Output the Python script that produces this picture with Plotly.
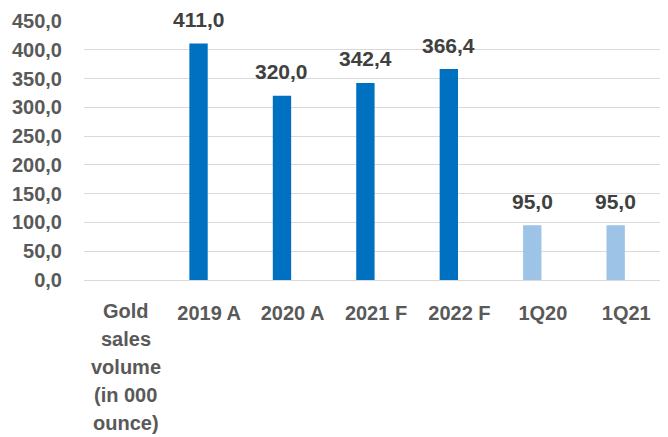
import plotly.graph_objects as go

categories = ["Gold<br>sales<br>volume<br>(in 000<br>ounce)", "2019 A", "2020 A", "2021 F", "2022 F", "1Q20", "1Q21"]
annual_values = [None, 411.0, 320.0, 342.4, 366.4, None, None]
quarter_values = [None, None, None, None, None, 95.0, 95.0]
y_ticks = [0, 50, 100, 150, 200, 250, 300, 350, 400, 450]

DARK = "#0070C0"
LIGHT = "#9DC3E6"
FONT = "Liberation Sans"
BAR_OFFSET = -0.237
BAR_WIDTH = 0.22
FS = 20
TICK_COLOR = "#595959"

idx = list(range(len(categories)))

fig = go.Figure()
fig.add_trace(go.Bar(x=idx, y=annual_values, marker_color=DARK, marker_line_width=0,
                     offset=BAR_OFFSET, width=BAR_WIDTH, hoverinfo="skip"))
fig.add_trace(go.Bar(x=idx, y=quarter_values, marker_color=LIGHT, marker_line_width=0,
                     offset=BAR_OFFSET, width=BAR_WIDTH, hoverinfo="skip"))

for i, (a, q) in enumerate(zip(annual_values, quarter_values)):
    v = a if a is not None else q
    if v is None:
        continue
    fig.add_annotation(x=i + BAR_OFFSET + BAR_WIDTH / 2, y=v, xref="x", yref="y",
                       text=f"{v:.1f}".replace(".", ","), showarrow=False,
                       yanchor="middle", yshift=24,
                       font=dict(family=FONT, size=FS + 1, color="#404040", weight="bold"))

# multi-line category labels drawn line by line (wider line spacing than plotly ticks)
ticktext = []
for i, cat in enumerate(categories):
    lines = cat.split("<br>")
    if len(lines) == 1:
        ticktext.append(cat)
        continue
    ticktext.append("")
    for k, line in enumerate(lines):
        fig.add_annotation(x=i, y=0, xref="x", yref="paper", text=line, showarrow=False,
                           yanchor="middle", yshift=-(31 + 28 * k),
                           font=dict(family=FONT, size=FS, color=TICK_COLOR, weight="bold"))

fig.update_layout(
    width=660, height=429,
    margin=dict(l=76, r=0, t=13, b=157),
    paper_bgcolor="white", plot_bgcolor="white",
    showlegend=False, barmode="overlay",
    separators=",.",
    font=dict(family=FONT, size=FS, color=TICK_COLOR, weight="bold"),
)
fig.update_xaxes(range=[-0.5, 6.5], tickvals=idx, ticktext=ticktext, showgrid=False,
                 zeroline=False, showline=False, ticks="", ticklabelstandoff=19,
                 automargin=False,
                 tickfont=dict(family=FONT, size=FS, color=TICK_COLOR, weight="bold"),
                 fixedrange=True)
fig.update_yaxes(range=[0, 450], tickvals=y_ticks, tickformat=".1f", showgrid=True,
                 gridcolor="#D9D9D9", gridwidth=1, zeroline=True, zerolinecolor="#D9D9D9",
                 zerolinewidth=1, showline=False, ticks="", ticklabelstandoff=21,
                 automargin=False,
                 tickfont=dict(family=FONT, size=FS, color=TICK_COLOR, weight="bold"),
                 fixedrange=True)

fig.write_html("out.html", config={"displayModeBar": False})
